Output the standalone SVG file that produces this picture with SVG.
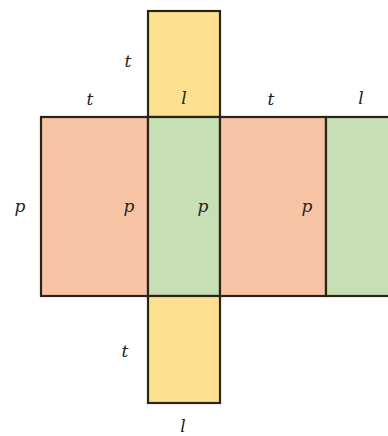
<svg xmlns="http://www.w3.org/2000/svg" width="388" height="436" viewBox="0 0 388 436">
<style>
.f{stroke:#2a2418;stroke-width:2.2}
.pink{fill:#f7c4a5}
.green{fill:#c6dfb5}
.yellow{fill:#fde08f}
text{font-family:"DejaVu Serif","Liberation Serif",serif;font-style:italic;font-size:17px;fill:#222;text-anchor:middle}
</style>
<rect width="388" height="436" fill="#fff"/>
<g id="top-face"><rect class="f yellow" x="148" y="11" width="72" height="106"/></g>
<g id="left-pink"><rect class="f pink" x="41" y="117" width="107" height="179"/></g>
<g id="front-green"><rect class="f green" x="148" y="117" width="72" height="179"/></g>
<g id="right-pink"><rect class="f pink" x="220" y="117" width="106" height="179"/></g>
<g id="back-green"><rect class="f green" x="326" y="117" width="70" height="179"/></g>
<g id="bottom-face"><rect class="f yellow" x="148" y="296" width="72" height="107"/></g>
<g id="labels">
<text x="128" y="67">t</text>
<text x="90" y="105">t</text>
<text x="184" y="104">l</text>
<text x="271" y="105">t</text>
<text x="361" y="104">l</text>
<text x="20" y="212">p</text>
<text x="129" y="212">p</text>
<text x="203" y="212">p</text>
<text x="307" y="212">p</text>
<text x="125" y="357">t</text>
<text x="183" y="432">l</text>
</g>
</svg>
